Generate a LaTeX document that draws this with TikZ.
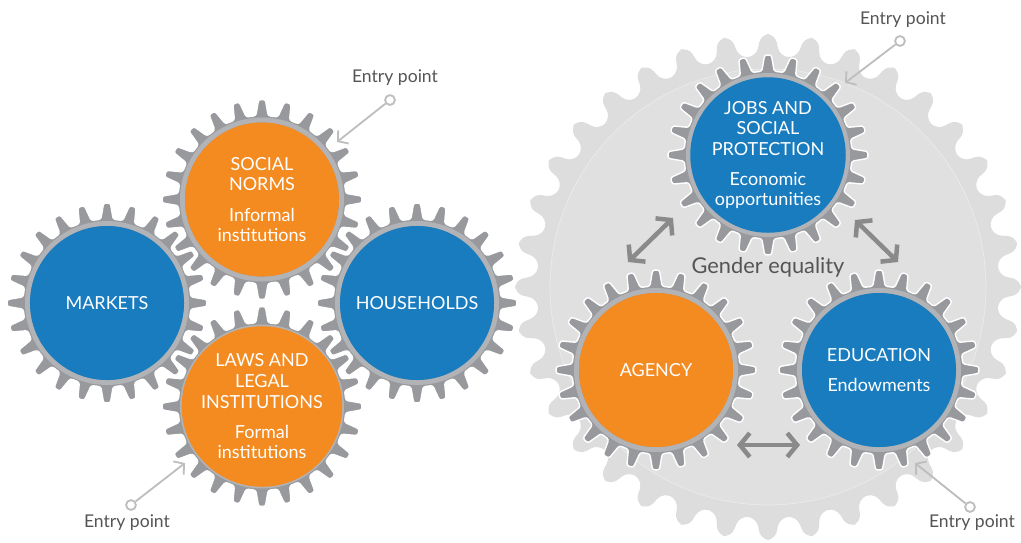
\documentclass[tikz,border=0pt]{standalone}
\usepackage{fontspec}
\setmainfont{Lato}
\usetikzlibrary{positioning}
\usetikzlibrary{arrows.meta}

\definecolor{cogblue}{RGB}{24,124,191}
\definecolor{cogorange}{RGB}{243,139,33}
\definecolor{coggray}{RGB}{152,153,157}
\definecolor{coglight}{RGB}{178,179,182}
\definecolor{biggray}{RGB}{221,221,221}
\definecolor{biginner}{RGB}{224,224,224}
\definecolor{arrowgray}{RGB}{138,138,138}
\definecolor{entrygray}{RGB}{190,190,190}
\definecolor{labelgray}{RGB}{85,85,85}

% gear outline: centre, root radius, tip radius, teeth, root half width, tip half width, style
\newcommand{\gear}[7]{%
  \pgfmathsetmacro{\gp}{360/#4}
  \path[#7,shift={(#1)}] ({-0.5*\gp}:#2)
    \foreach \k in {1,...,#4}{
      -- ({(\k-1)*\gp-#5*\gp}:#2) -- ({(\k-1)*\gp-#6*\gp}:#3)
      -- ({(\k-1)*\gp+#6*\gp}:#3) -- ({(\k-1)*\gp+#5*\gp}:#2)
    } -- cycle;
}

\begin{document}
\begin{tikzpicture}[x=0.025cm,y=-0.025cm,
    smallgear/.style={fill=coggray,draw=white,line width=1pt,rounded corners=1.6pt},
    biggear/.style={fill=biggray,rounded corners=6pt},
    hub/.style={circle,minimum size=3.85cm,inner sep=0pt,text=white,align=center,
      font=\fontsize{12.8}{14.6}\selectfont},
    bluehub/.style={hub,fill=cogblue},
    orangehub/.style={hub,fill=cogorange},
    twoway/.style={draw=arrowgray,line width=3.2pt,
      {Straight Barb[length=7pt,width=17pt]}-{Straight Barb[length=7pt,width=17pt]}},
    entry/.style={draw=entrygray,line width=1.3pt,-{Straight Barb[length=5pt,width=12pt]}},
    entrydot/.style={circle,draw=entrygray,fill=white,line width=1.3pt,minimum size=7pt,inner sep=0pt},
    entrytext/.style={text=labelgray,font=\fontsize{12.5}{14}\selectfont}]
  \useasboundingbox (0,0) rectangle (1021,542);

  % centres
  \coordinate (mk) at (107,303);
  \coordinate (sn) at (262,199.5);
  \coordinate (hh) at (417,303);
  \coordinate (lw) at (262,406.5);
  \coordinate (big) at (768,287);
  \coordinate (jb) at (768,155);
  \coordinate (ag) at (656,370);
  \coordinate (ed) at (879,370);

  % large gear behind the right cluster
  \gear{big}{231}{253}{36}{0.29}{0.16}{biggear}
  \fill[biginner] (big) circle (218);
  \draw[white!40!biggray,line width=0.5pt] (big) circle (218);

  % small gears
  \foreach \c in {mk,sn,hh,lw,jb,ag,ed}{
    \gear{\c}{84}{100}{24}{0.28}{0.13}{smallgear}
  }
  \foreach \c in {mk,sn,hh,lw,jb,ag,ed}{
    \draw[coglight,line width=3.5pt] (\c) circle (79.5);
  }

  % hubs
  \node[bluehub] (markets) at (mk) {MARKETS};
  \node[orangehub] (norms) at (sn) {SOCIAL\\NORMS\\[7pt]Informal\\institutions};
  \node[bluehub] (households) at (hh) {HOUSEHOLDS};
  \node[orangehub] (laws) at (lw) {LAWS AND\\LEGAL\\INSTITUTIONS\\[7pt]Formal\\institutions};
  \node[bluehub] (jobs) at (jb) {JOBS AND\\SOCIAL\\PROTECTION\\[7pt]Economic\\opportunities};
  \node[orangehub] (agency) at (ag) {AGENCY};
  \node[bluehub] (education) at (ed) {EDUCATION\\[7pt]Endowments};

  \node[text=labelgray,font=\fontsize{15.5}{18}\selectfont] (gender) at (768,267) {Gender equality};

  % links between the three domains
  \coordinate (a1) at (628,262);
  \coordinate (a2) at (673,218);
  \coordinate (b1) at (855,220);
  \coordinate (b2) at (898,262);
  \coordinate (c1) at (737,445);
  \coordinate (c2) at (800,445);
  \draw[twoway] (a1) -- (a2);
  \draw[twoway] (b1) -- (b2);
  \draw[twoway] (c1) -- (c2);

  % entry points
  \node[entrytext] (ept1) at (395,78) {Entry point};
  \node[entrydot] (dot1) at (390,100) {};
  \coordinate (tip1) at (337,142);
  \draw[entry] (dot1) -- (tip1);

  \node[entrytext] (ept2) at (127,523) {Entry point};
  \node[entrydot] (dot2) at (131,505) {};
  \coordinate (tip2) at (185,463);
  \draw[entry] (dot2) -- (tip2);

  \node[entrytext] (ept3) at (903,20) {Entry point};
  \node[entrydot] (dot3) at (900,41) {};
  \coordinate (tip3) at (845,83);
  \draw[entry] (dot3) -- (tip3);

  \node[entrytext] (ept4) at (972,523) {Entry point};
  \node[entrydot] (dot4) at (970,507) {};
  \coordinate (tip4) at (915,463);
  \draw[entry] (dot4) -- (tip4);
\end{tikzpicture}
\end{document}
